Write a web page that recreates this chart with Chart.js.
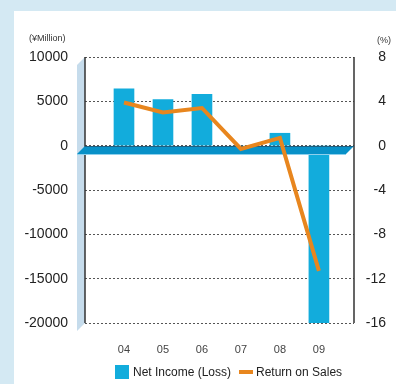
<!DOCTYPE html>
<html>
<head>
<meta charset="utf-8">
<script src="https://cdn.jsdelivr.net/npm/chart.js@4.4.1/dist/chart.umd.min.js"></script>
<style>
  html, body { margin: 0; padding: 0; background: #d4e9f3; }
  #panel { position: absolute; left: 14px; top: 11px; width: 382px; height: 373px; background: #fff; }
  #wrap { position: absolute; left: 0; top: 0; width: 396px; height: 384px; }
</style>
</head>
<body>
<div id="panel"></div>
<div id="wrap"><canvas id="chart" width="396" height="384"></canvas></div>
<script>
// Годы и значения
const years = ['04', '05', '06', '07', '08', '09'];
const netIncome = [6400, 5200, 5800, -300, 1400, -20000];   // млн иен
const returnOnSales = [3.9, 3.0, 3.4, -0.3, 0.7, -11.3];     // %

const FONT = 'Liberation Sans, Arial, Helvetica, sans-serif';
const BAR_COLOR = '#12acdc';
const LINE_COLOR = '#e8861e';
const DEPTH = 8; // глубина "3D" стенки и нулевой полосы

// Стенка слева, оси и нулевая полоса
const depthPlugin = {
    id: 'depth',
    beforeDatasetsDraw(chart) {
        const { ctx, chartArea: a } = chart;
        ctx.save();
        ctx.fillStyle = '#c6dcec';
        ctx.beginPath();
        ctx.moveTo(a.left, a.top);
        ctx.lineTo(a.left, a.bottom);
        ctx.lineTo(a.left - DEPTH, a.bottom + DEPTH);
        ctx.lineTo(a.left - DEPTH, a.top + DEPTH);
        ctx.closePath();
        ctx.fill();
        // вертикальные оси
        ctx.strokeStyle = '#333';
        ctx.lineWidth = 1.5;
        ctx.beginPath();
        ctx.moveTo(a.left, a.top);
        ctx.lineTo(a.left, a.bottom);
        ctx.moveTo(a.right, a.top);
        ctx.lineTo(a.right, a.bottom);
        ctx.stroke();
        ctx.restore();
    },
    beforeDatasetDraw(chart, args) {
        if (args.index !== 1) return;
        const { ctx, chartArea: a } = chart;
        const zero = Math.round(chart.scales.y.getPixelForValue(0));
        ctx.save();
        ctx.fillStyle = '#0891c8';
        ctx.beginPath();
        ctx.moveTo(a.left, zero);
        ctx.lineTo(a.right, zero);
        ctx.lineTo(a.right - DEPTH, zero + DEPTH);
        ctx.lineTo(a.left - DEPTH, zero + DEPTH);
        ctx.closePath();
        ctx.fill();
        ctx.strokeStyle = '#1d5f80';
        ctx.lineWidth = 1;
        ctx.beginPath();
        ctx.moveTo(a.left, zero + 0.5);
        ctx.lineTo(a.right, zero + 0.5);
        ctx.stroke();
        ctx.strokeStyle = '#8fd0ec';
        ctx.beginPath();
        ctx.moveTo(a.left - DEPTH, zero + DEPTH + 0.5);
        ctx.lineTo(a.right - DEPTH, zero + DEPTH + 0.5);
        ctx.stroke();
        ctx.restore();
    },
    afterDraw(chart) {
        const ctx = chart.ctx;
        ctx.save();
        // Единицы осей
        ctx.fillStyle = '#333';
        ctx.font = '9px ' + FONT;
        ctx.textBaseline = 'middle';
        ctx.textAlign = 'left';
        ctx.fillText('(¥Million)', 29, 39);
        ctx.fillText('(%)', 377, 41);

        // Легенда
        ctx.font = '12px ' + FONT;
        ctx.fillStyle = BAR_COLOR;
        ctx.fillRect(115, 365, 14, 14);
        ctx.fillStyle = '#222';
        ctx.fillText('Net Income (Loss)', 133, 373);
        ctx.fillStyle = LINE_COLOR;
        ctx.fillRect(239, 370, 14, 4);
        ctx.fillStyle = '#222';
        ctx.fillText('Return on Sales', 256, 373);
        ctx.restore();
    }
};

const ctx = document.getElementById('chart').getContext('2d');
new Chart(ctx, {
    data: {
        datasets: [{
            type: 'bar',
            label: 'Net Income (Loss)',
            data: years.map((y, i) => ({ x: i, y: netIncome[i] })),
            backgroundColor: BAR_COLOR,
            barThickness: 20,
            yAxisID: 'y',
            order: 1
        }, {
            type: 'line',
            label: 'Return on Sales',
            data: years.map((y, i) => ({ x: i, y: returnOnSales[i] })),
            borderColor: LINE_COLOR,
            borderWidth: 4,
            pointRadius: 0,
            tension: 0,
            yAxisID: 'y1',
            order: 0
        }]
    },
    options: {
        responsive: false,
        animation: false,
        layout: { padding: { top: 57, right: 10, left: 0, bottom: 0 } },
        plugins: {
            legend: { display: false },
            tooltip: { enabled: false }
        },
        scales: {
            x: {
                type: 'linear',
                min: -1,
                max: 5.9,
                offset: false,
                afterBuildTicks: axis => { axis.ticks = years.map((y, i) => ({ value: i })); },
                afterFit: axis => { axis.height = 61; },
                grid: { display: false, offset: false },
                border: { display: false },
                ticks: {
                    padding: 12,
                    color: '#444',
                    font: { family: FONT, size: 11 },
                    callback: v => years[v]
                }
            },
            y: {
                position: 'left',
                min: -20000,
                max: 10000,
                afterFit: axis => { axis.width = 85; },
                ticks: {
                    stepSize: 5000,
                    padding: 17,
                    color: '#222',
                    font: { family: FONT, size: 14 },
                    callback: v => String(v)
                },
                grid: {
                    color: '#555',
                    lineWidth: 1,
                    drawTicks: false
                },
                border: { display: false, dash: [2, 2] }
            },
            y1: {
                position: 'right',
                min: -16,
                max: 8,
                afterFit: axis => { axis.width = 32; },
                ticks: {
                    stepSize: 4,
                    padding: 4,
                    crossAlign: 'far',
                    color: '#222',
                    font: { family: FONT, size: 14 },
                    callback: v => String(v)
                },
                grid: { display: false, drawTicks: false },
                border: { display: false }
            }
        }
    },
    plugins: [depthPlugin]
});
</script>
</body>
</html>
